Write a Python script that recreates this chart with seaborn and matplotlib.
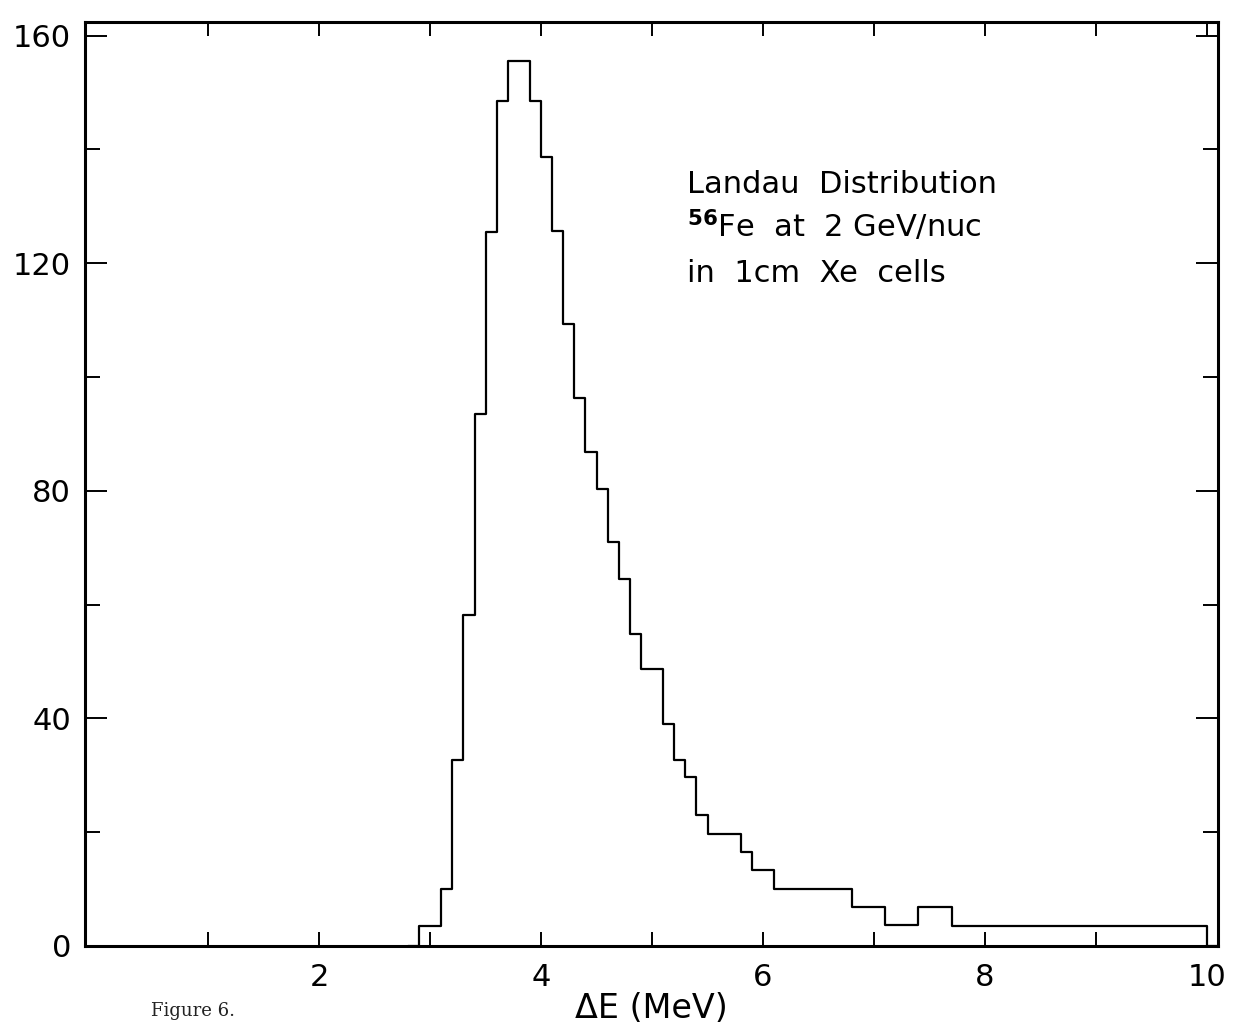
import numpy as np
import pandas as pd
import seaborn as sns
import matplotlib.pyplot as plt

# histogram: bin edges (MeV) and counts per bin
bin_edges = [2.8, 2.9, 3.1, 3.2, 3.3, 3.4, 3.5, 3.6, 3.7, 3.9, 4.0, 4.1, 4.2,
             4.3, 4.4, 4.5, 4.6, 4.7, 4.8, 4.9, 5.1, 5.2, 5.3, 5.4, 5.5, 5.8,
             5.9, 6.1, 6.8, 7.1, 7.4, 7.7, 10.0, 10.1]
counts = [0, 3.5, 10.0, 32.7, 58.1, 93.5, 125.5, 148.5, 155.6, 148.5, 138.7,
          125.6, 109.4, 96.4, 86.9, 80.3, 71.0, 64.5, 54.9, 48.6, 39.0, 32.7,
          29.7, 23.1, 19.7, 16.5, 13.4, 10.1, 6.9, 3.6, 6.9, 3.5, 0]

x_ticks = [2, 4, 6, 8, 10]
x_minor = [1, 3, 5, 7, 9]
y_ticks = [0, 40, 80, 120, 160]
y_minor = [20, 60, 100, 140]

note_lines = ["Landau  Distribution",
              r"$^{\mathbf{56}}$Fe  at  2 GeV/nuc",
              "in  1cm  Xe  cells"]

edges = np.array(bin_edges)
df = pd.DataFrame({"dE": (edges[:-1] + edges[1:]) / 2, "n": counts})

sns.set_theme(style="ticks")
plt.rcParams['font.family'] = ['DejaVu Sans']
plt.rcParams['text.color'] = 'black'
plt.rcParams['axes.labelcolor'] = 'black'

fig = plt.figure(figsize=(12.47, 10.28), dpi=100)
ax = fig.add_axes([0.0682, 0.0798, 0.9085, 0.8988])

sns.histplot(data=df, x="dE", weights="n", bins=bin_edges, element="step",
             fill=False, color="black", linewidth=1.6, ax=ax)

ax.set_xlim(-0.11, 10.1)
ax.set_ylim(0, 162.4)

ax.set_xticks(x_ticks)
ax.set_xticklabels([str(t) for t in x_ticks])
ax.set_xticks(x_minor, minor=True)
ax.set_yticks(y_ticks)
ax.set_yticklabels([str(t) for t in y_ticks])
ax.set_yticks(y_minor, minor=True)

ax.tick_params(axis="both", which="both", direction="in", top=True,
               right=True, width=1.4, colors="black", labelsize=22)
ax.tick_params(axis="y", which="major", length=16, pad=10)
ax.tick_params(axis="y", which="minor", length=11)
ax.tick_params(axis="x", which="both", length=10, pad=12)

for s in ax.spines.values():
    s.set_linewidth(2.2)
    s.set_color("black")

ax.set_xlabel("ΔE (MeV)", fontsize=24, labelpad=0)
ax.set_ylabel("")

for i, line in enumerate(note_lines):
    ax.text(0.531, 0.815 - i * 0.048, line, transform=ax.transAxes,
            fontsize=22, va="baseline", ha="left", color="black")

fig.text(0.121, 0.012, "Figure 6.", family="DejaVu Serif", fontsize=13,
         color="#222222")

fig.savefig("out.png", dpi=100, facecolor="white")
